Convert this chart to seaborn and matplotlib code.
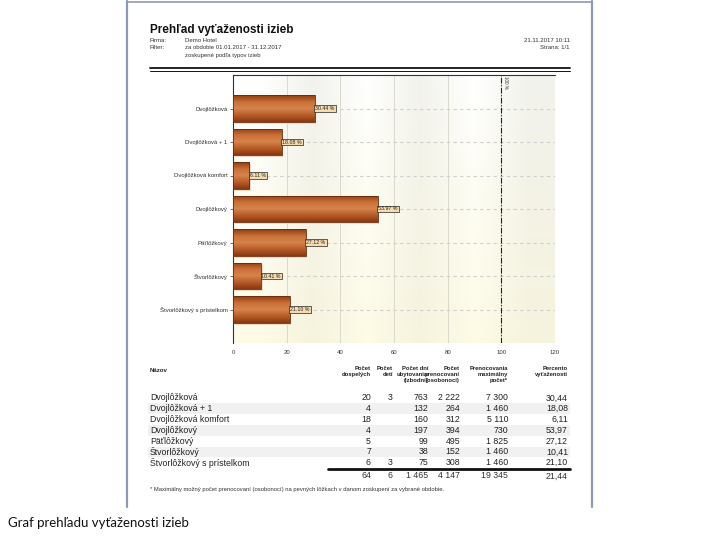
import numpy as np
import pandas as pd
import matplotlib
matplotlib.use('Agg')
import matplotlib.pyplot as plt
import seaborn as sns
from matplotlib.colors import LinearSegmentedColormap
from matplotlib.lines import Line2D
from matplotlib.patches import Rectangle

room_types = ['Dvojlôžková', 'Dvojlôžková + 1', 'Dvojlôžková komfort', 'Dvojlôžkový',
              'Päťlôžkový', 'Štvorlôžkový', 'Štvorlôžkový s prístelkom']
occupancy = [30.44, 18.08, 6.11, 53.97, 27.12, 10.41, 21.10]
adults = [20, 4, 18, 4, 5, 7, 6]
children = [3, None, None, None, None, None, 3]
room_days = [763, 132, 160, 197, 99, 38, 75]
nights = [2222, 264, 312, 394, 495, 152, 308]
max_nights = [7300, 1460, 5110, 730, 1825, 1460, 1460]
totals = [64, 6, 1465, 4147, 19345, 21.44]
x_ticks = [0, 20, 40, 60, 80, 100, 120]

W, H = 720, 540


def px(x, y):
    return x / W, 1 - y / H


sns.set_style('white')
plt.rcParams['font.family'] = ['Liberation Sans', 'DejaVu Sans']

fig = plt.figure(figsize=(7.2, 5.4), dpi=100)
fig.patch.set_facecolor('white')

# page frame (screenshot of the report)
frame_c = '#8c9bb3'
fig.add_artist(Line2D([127 / W, 127 / W], [1 - 1 / H, 1 - 507 / H], color=frame_c, lw=1.6))
fig.add_artist(Line2D([592 / W, 592 / W], [1 - 1 / H, 1 - 507 / H], color=frame_c, lw=1.6))
fig.add_artist(Line2D([127 / W, 592 / W], [1 - 1.5 / H, 1 - 1.5 / H], color=frame_c, lw=1.2))

# header
fig.text(*px(150, 30), 'Prehľad vyťaženosti izieb', fontsize=8.5, fontweight='bold',
         va='center', color='#111')
hdr = dict(fontsize=4.3, va='center', color='#333')
fig.text(*px(150, 40), 'Firma:', **hdr)
fig.text(*px(185, 40), 'Demo Hotel', **hdr)
fig.text(*px(150, 47.5), 'Filter:', **hdr)
fig.text(*px(185, 47.5), 'za obdobie 01.01.2017 - 31.12.2017', **hdr)
fig.text(*px(185, 55), 'zoskupené podľa typov izieb', **hdr)
fig.text(*px(570, 40), '21.11.2017 10:11', ha='right', **hdr)
fig.text(*px(570, 47.5), 'Strana: 1/1', ha='right', **hdr)
fig.add_artist(Line2D([150 / W, 570 / W], [1 - 67.5 / H] * 2, color='#111', lw=1.3))
fig.add_artist(Line2D([150 / W, 570 / W], [1 - 70.8 / H] * 2, color='#111', lw=0.7))

# chart
ax = fig.add_axes([233 / W, 1 - 343 / H, (555 - 233) / W, (343 - 75) / H])
df = pd.DataFrame({'Typ': room_types, 'Percento': occupancy})
sns.barplot(data=df, x='Percento', y='Typ', orient='h', color='#b35a25', width=0.8, ax=ax,
            zorder=3)

# banded background with a soft vertical gradient
rows = 100
t = np.linspace(0, 1, rows)[:, None, None]
band_top = np.array([[1.0, 1.0, 1.0], [0.95, 0.95, 0.93]])
band_bot = np.array([[0.995, 0.985, 0.90], [0.965, 0.955, 0.87]])
cols = []
for k in range(6):
    b = k % 2
    cols.append(band_top[b] * (1 - t[:, 0]) + band_bot[b] * t[:, 0])
bg = np.stack(cols, axis=1)
ax.imshow(bg, extent=[0, 120, 7, -1], aspect='auto', zorder=0, interpolation='bilinear')

for xv in x_ticks[1:-1]:
    ax.axvline(xv, color='#d6d4c8', lw=0.6, zorder=1)
for i in range(len(room_types)):
    ax.axhline(i, color='#cfcfcf', lw=0.8, ls=(0, (3, 3)), zorder=1)

# copper gradient on the bars
cmap = LinearSegmentedColormap.from_list('copper_bar',
                                         ['#8e3d12', '#c96f36', '#d7844c', '#b65c27', '#8a3810'])
grad = np.linspace(0, 1, 64).reshape(-1, 1)
for p in ax.patches:
    x0, y0 = p.get_x(), p.get_y()
    w, h = p.get_width(), p.get_height()
    sh = Rectangle((x0 + 0.6, y0 + 0.06), w, h, fc='#e8d9c8', ec='none', zorder=2)
    ax.add_patch(sh)
    im = ax.imshow(grad, cmap=cmap, extent=[x0, x0 + w, y0 + h, y0], aspect='auto',
                   zorder=3.5, interpolation='bilinear')
    im.set_clip_path(p)
    p.set_facecolor('none')
    p.set_edgecolor('#6a2a08')
    p.set_linewidth(0.6)
    p.set_zorder(4)

for i, v in enumerate(occupancy):
    ax.text(v + 0.2, i, f'{v:.2f} %', va='center', ha='left', fontsize=3.8, color='#222',
            zorder=6,
            bbox=dict(boxstyle='square,pad=0.18', fc='#f6dbb0', ec='#222', lw=0.5))

ax.axvline(100, color='#222', lw=0.8, ls=(0, (5, 1.5, 1, 1.5)), zorder=5)
ax.text(100.6, -0.97, '100 %', rotation=270, va='top', ha='left', fontsize=3.3, color='#333',
        zorder=6)

ax.set_xlim(0, 120)
ax.set_ylim(7, -1)
ax.set_xticks(x_ticks)
ax.set_xticklabels([str(v) for v in x_ticks])
ax.set_xlabel('')
ax.set_ylabel('')
ax.tick_params(axis='x', length=0, pad=5, labelsize=4.3, colors='#333')
ax.tick_params(axis='y', length=2, width=0.5, pad=2, labelsize=4.3, colors='#333', left=True)
for s in ['bottom', 'right']:
    ax.spines[s].set_visible(False)
for s in ['left', 'top']:
    ax.spines[s].set_color('#333')
    ax.spines[s].set_linewidth(0.8)

# table under the chart
def fmt(n):
    if n is None:
        return ''
    return f'{n:,}'.replace(',', '\u00a0')


col_right = [371, 393, 428, 460, 508, 568]
headers = ['Počet\ndospelých', 'Počet\ndetí', 'Počet dní\nubytovania\n(izbodní)',
           'Počet\nprenocovaní\n(osobonocí)', 'Prenocovania\nmaximálny\npočet*',
           'Percento\nvyťaženosti']
fig.text(*px(150, 370), 'Názov', fontsize=4.4, fontweight='bold', va='center', color='#222')
for xr, hname in zip(col_right, headers):
    fig.text(*px(xr, 366), hname, fontsize=4.2, fontweight='semibold', va='top', ha='right',
             color='#222', linespacing=1.2)

y0, dy = 398, 10.8
for i in range(len(room_types)):
    y = y0 + i * dy
    if i % 2 == 1:
        fig.add_artist(Rectangle(px(148, y + dy / 2), (570 - 148) / W, dy / H,
                                 transform=fig.transFigure, fc='#f1f1f1', ec='none', zorder=0))
    vals = [fmt(adults[i]), fmt(children[i]), fmt(room_days[i]), fmt(nights[i]),
            fmt(max_nights[i]), f'{occupancy[i]:.2f}'.replace('.', ',')]
    fig.text(*px(150, y), room_types[i], fontsize=6.3, va='center', color='#222')
    for xr, s in zip(col_right, vals):
        fig.text(*px(xr, y), s, fontsize=6.3, va='center', ha='right', color='#222')

fig.add_artist(Line2D([328 / W, 570 / W], [1 - 469 / H] * 2, color='#111', lw=2.0))
tot_vals = [fmt(v) for v in totals[:5]] + [f'{totals[5]:.2f}'.replace('.', ',')]
for xr, s in zip(col_right, tot_vals):
    fig.text(*px(xr, 476), s, fontsize=6.3, va='center', ha='right', color='#333')

fig.text(*px(150, 489), '* Maximálny možný počet prenocovaní (osobonocí) na pevných lôžkach '
         'v danom zoskupení za vybrané obdobie.', fontsize=4.2, va='center', color='#333')

# caption outside the page
fig.text(*px(8, 523), 'Graf prehľadu vyťaženosti izieb', fontsize=9.5, va='center',
         color='#111', family=['Lato', 'DejaVu Sans'])

fig.savefig('out.png', dpi=100)
